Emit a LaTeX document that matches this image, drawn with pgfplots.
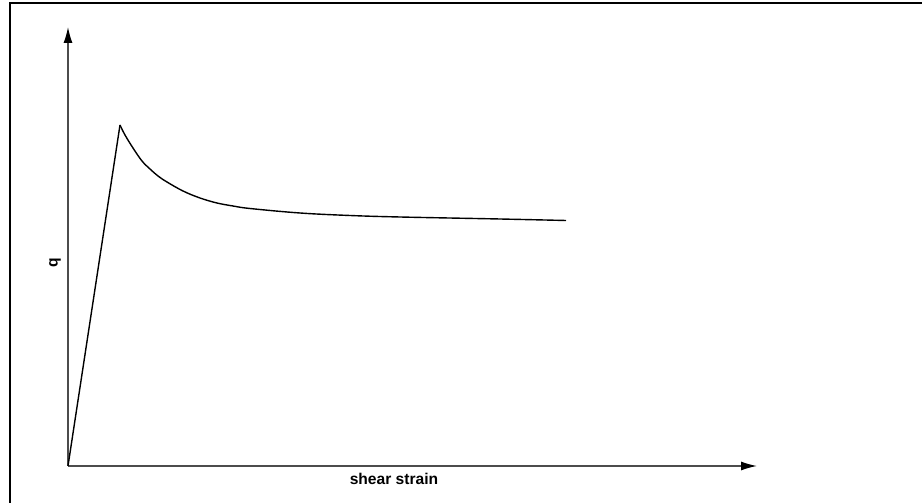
\documentclass[border=0pt]{standalone}
\usepackage{pgfplots}
\pgfplotsset{compat=1.18}
\usetikzlibrary{arrows.meta}
\usepackage{fontspec}
\setmainfont{Liberation Sans}
\begin{document}
\begin{tikzpicture}[x=0.5pt,y=0.5pt]
\useasboundingbox (0,0) rectangle (922,503);
% frame
\draw[line width=1.3pt] (10,0) -- (10,500) -- (922,500);
\begin{axis}[
  at={(34pt,18.5pt)}, anchor=south west,
  scale only axis, width=344.5pt, height=219.5pt,
  xmin=0, xmax=689, ymin=0, ymax=439,
  axis lines=left, ticks=none,
  axis line style={draw=black!70, line width=0.65pt,
    -{Latex[length=8pt,width=4.5pt,color=black]}},
  clip=false,
]
% loading branch up to the peak
\addplot[black, line width=0.7pt] coordinates {(0,0) (52,341)};
% softening branch after the peak
\addplot[black, line width=0.7pt, smooth, tension=0.6] coordinates {
  (52,341) (57,331) (65,318) (74,305) (82,297) (90,290) (99,284)
  (115,275) (132,268) (149,263) (165,260) (182,257.5) (232,253)
  (282,250.5) (332,249) (432,247) (498,245.5)
};
\end{axis}
\node[font=\bfseries\fontsize{7.8}{9}\selectfont] at (394,24) {shear strain};
\node[font=\bfseries\fontsize{7.8}{9}\selectfont, rotate=90] at (55,240) {q};
\end{tikzpicture}
\end{document}
